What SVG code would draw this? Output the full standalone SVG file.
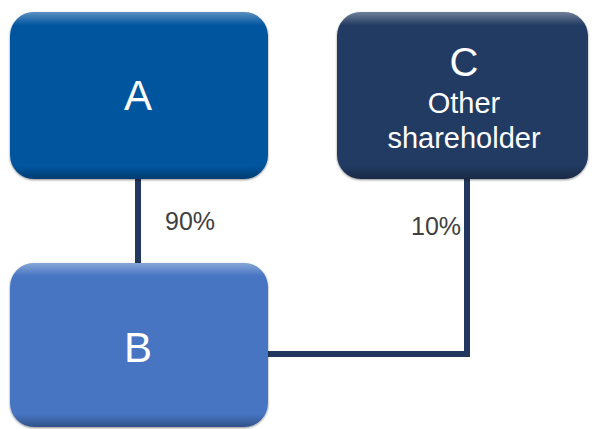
<svg xmlns="http://www.w3.org/2000/svg" width="592" height="429" viewBox="0 0 592 429">
<defs>
<linearGradient id="hl" x1="0" y1="0" x2="0" y2="1">
<stop offset="0" stop-color="#ffffff" stop-opacity="0.35"/>
<stop offset="0.08" stop-color="#ffffff" stop-opacity="0"/>
<stop offset="0.92" stop-color="#000000" stop-opacity="0"/>
<stop offset="1" stop-color="#000000" stop-opacity="0.3"/>
</linearGradient>
<filter id="sh" x="-10%" y="-10%" width="120%" height="120%">
<feDropShadow dx="0" dy="1" stdDeviation="1.2" flood-color="#000" flood-opacity="0.45"/>
</filter>
</defs>
<style>
.box{filter:url(#sh)}
.lbl{font-family:"Liberation Sans",Arial,sans-serif;fill:#ffffff;text-anchor:middle}
.pct{font-family:"Liberation Sans",Arial,sans-serif;fill:#404040;font-size:25px}
.con{fill:none;stroke:#22375e;stroke-width:6}
</style>
<g id="connectors">
<path class="con" d="M138 178 V264"/>
<path class="con" d="M267 354 H467 V179"/>
<text class="pct" x="165" y="230">90%</text>
<text class="pct" x="411" y="235">10%</text>
</g>
<g id="A">
<rect class="box" x="10" y="12" width="258" height="167" rx="24" fill="#05549f"/>
<rect x="10" y="12" width="258" height="167" rx="24" fill="url(#hl)"/>
<text class="lbl" x="138" y="110" font-size="42">A</text>
</g>
<g id="C">
<rect class="box" x="337" y="12" width="251" height="167" rx="24" fill="#233a62"/>
<rect x="337" y="12" width="251" height="167" rx="24" fill="url(#hl)"/>
<text class="lbl" x="464" y="76" font-size="40">C</text>
<text class="lbl" x="464" y="113" font-size="29">Other</text>
<text class="lbl" x="464" y="148" font-size="29">shareholder</text>
</g>
<g id="B">
<rect class="box" x="10" y="263" width="258" height="164" rx="24" fill="#4675c2"/>
<rect x="10" y="263" width="258" height="164" rx="24" fill="url(#hl)"/>
<text class="lbl" x="138" y="362" font-size="42">B</text>
</g>
</svg>
